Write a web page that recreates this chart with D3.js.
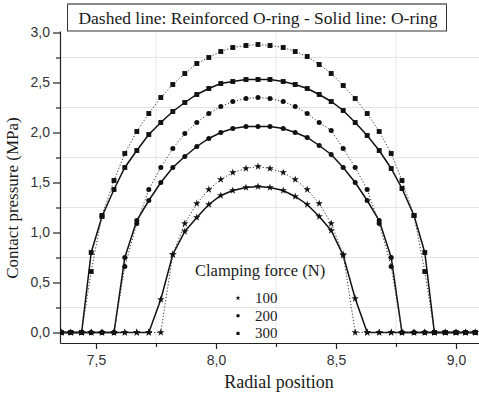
<!DOCTYPE html>
<html>
<head>
<meta charset="utf-8">
<script src="https://cdn.jsdelivr.net/npm/d3@7"></script>
<style>
    body { margin: 0; background: #fff; }
    svg { display: block; }
    .serif { font-family: "Liberation Serif", "Times New Roman", serif; }
    .sans { font-family: "Liberation Sans", Arial, sans-serif; }
</style>
</head>
<body>
<div id="chart"></div>
<script>
// radial positions shared by all six series
const radialPos = [7.355, 7.395, 7.44, 7.48, 7.525, 7.575, 7.62, 7.67, 7.72, 7.77,
    7.82, 7.87, 7.92, 7.97, 8.02, 8.07, 8.125, 8.175, 8.225, 8.28, 8.33, 8.38, 8.43,
    8.48, 8.53, 8.58, 8.63, 8.68, 8.73, 8.775, 8.825, 8.87, 8.91, 8.955, 9.0, 9.04, 9.08];

// contact pressure (MPa), solid line = O-ring, dotted = reinforced O-ring
const oring100 = [0, 0, 0, 0, 0, 0, 0, 0, 0, 0.33, 0.78, 1.01, 1.15, 1.28, 1.37, 1.42, 1.45,
    1.46, 1.45, 1.42, 1.36, 1.28, 1.16, 1.02, 0.77, 0.34, 0, 0, 0, 0, 0, 0, 0, 0, 0, 0, 0];
const reinforced100 = [0, 0, 0, 0, 0, 0, 0, 0, 0, 0, 0.78, 1.09, 1.29, 1.43, 1.53, 1.60, 1.64,
    1.66, 1.64, 1.60, 1.53, 1.43, 1.29, 1.09, 0.78, 0, 0, 0, 0, 0, 0, 0, 0, 0, 0, 0, 0];
const oring200 = [0, 0, 0, 0, 0, 0, 0.75, 1.12, 1.32, 1.50, 1.65, 1.76, 1.86, 1.94, 2.00, 2.04, 2.06,
    2.06, 2.06, 2.04, 2.00, 1.95, 1.87, 1.78, 1.65, 1.50, 1.32, 1.12, 0.75, 0, 0, 0, 0, 0, 0, 0, 0];
const reinforced200 = [0, 0, 0, 0, 0, 0, 0.66, 1.09, 1.43, 1.65, 1.84, 1.99, 2.10, 2.19, 2.26, 2.31, 2.34,
    2.35, 2.34, 2.31, 2.26, 2.19, 2.10, 2.02, 1.84, 1.65, 1.43, 1.09, 0.66, 0, 0, 0, 0, 0, 0, 0, 0];
const oring300 = [0, 0, 0, 0.80, 1.16, 1.43, 1.65, 1.82, 1.98, 2.10, 2.21, 2.30, 2.38, 2.44, 2.49, 2.51, 2.53,
    2.53, 2.53, 2.51, 2.48, 2.44, 2.38, 2.31, 2.22, 2.10, 1.97, 1.82, 1.64, 1.44, 1.17, 0.80, 0, 0, 0, 0, 0];
const reinforced300 = [0, 0, 0, 0.61, 1.17, 1.52, 1.79, 2.01, 2.19, 2.35, 2.48, 2.59, 2.69, 2.75, 2.81, 2.85, 2.87,
    2.88, 2.87, 2.85, 2.81, 2.76, 2.68, 2.59, 2.47, 2.34, 2.19, 2.01, 1.79, 1.52, 1.17, 0.61, 0, 0, 0, 0, 0];

const forces = ["100", "200", "300"];
const xTicks = [7.5, 8.0, 8.5, 9.0];
const xMinorTicks = [7.75, 8.25, 8.75];
const yTicks = [0, 0.5, 1.0, 1.5, 2.0, 2.5, 3.0];
const yMinorTicks = [0.25, 0.75, 1.25, 1.75, 2.25, 2.75];

const legendTitle = "Dashed line: Reinforced O-ring - Solid line: O-ring";

const series = [
    { force: "100", values: oring100, dotted: false },
    { force: "100", values: reinforced100, dotted: true },
    { force: "200", values: oring200, dotted: false },
    { force: "200", values: reinforced200, dotted: true },
    { force: "300", values: oring300, dotted: false },
    { force: "300", values: reinforced300, dotted: true }
];

const width = 479, height = 395;
const plotLeft = 60, plotRight = 480, plotTop = 31, plotBottom = 343;

const svg = d3.select("#chart").append("svg")
    .attr("width", width)
    .attr("height", height);

const x = d3.scaleLinear().domain([7.35, 9.1]).range([plotLeft, plotRight]);
const y = d3.scaleLinear().domain([-0.105, 3.015]).range([plotBottom, plotTop]);

const comma = v => d3.format(".1f")(v).replace(".", ",");

const symbols = {
    "100": d3.symbol().type(d3.symbolStar).size(17),
    "200": d3.symbol().type(d3.symbolCircle).size(20),
    "300": d3.symbol().type(d3.symbolSquare).size(24)
};

// faint grid at the minor ticks
svg.append("g").selectAll("line")
    .data(yMinorTicks)
    .join("line")
    .attr("x1", plotLeft).attr("x2", plotRight)
    .attr("y1", d => y(d)).attr("y2", d => y(d))
    .attr("stroke", "#e4e4e4").attr("stroke-width", 1);

svg.append("g").selectAll("line")
    .data(xMinorTicks)
    .join("line")
    .attr("x1", d => x(d)).attr("x2", d => x(d))
    .attr("y1", plotTop).attr("y2", plotBottom)
    .attr("stroke", "#e8e8e8").attr("stroke-width", 1);

// axes
const xAxis = svg.append("g")
    .attr("transform", `translate(0, ${plotBottom})`)
    .call(d3.axisBottom(x).tickValues(xTicks).tickFormat(comma).tickSize(6).tickSizeOuter(0));

svg.append("g")
    .attr("transform", `translate(0, ${plotBottom})`)
    .call(d3.axisBottom(x).tickValues(xMinorTicks).tickFormat("").tickSize(4).tickSizeOuter(0))
    .select(".domain").remove();

const yAxis = svg.append("g")
    .attr("transform", `translate(${plotLeft}, 0)`)
    .call(d3.axisLeft(y).tickValues(yTicks).tickFormat(comma).tickSize(7).tickSizeOuter(0));

svg.append("g")
    .attr("transform", `translate(${plotLeft}, 0)`)
    .call(d3.axisLeft(y).tickValues(yMinorTicks).tickFormat("").tickSize(4).tickSizeOuter(0))
    .select(".domain").remove();

svg.selectAll(".domain").attr("stroke", "#222").attr("stroke-width", 1.2);
svg.selectAll(".tick line").attr("stroke", "#222").attr("stroke-width", 1.2);

xAxis.attr("font-family", null);
yAxis.attr("font-family", null);

xAxis.selectAll("text")
    .attr("class", "sans")
    .attr("font-size", 14)
    .attr("fill", "#333")
    .attr("dy", "0.95em");

yAxis.selectAll("text")
    .attr("class", "sans")
    .attr("font-size", 14)
    .attr("fill", "#333")
    .attr("x", -10);

// axis titles
svg.append("text")
    .attr("class", "serif")
    .attr("x", 279).attr("y", 388)
    .attr("text-anchor", "middle")
    .attr("font-size", 18)
    .attr("fill", "#1a1a1a")
    .text("Radial position");

svg.append("text")
    .attr("class", "serif")
    .attr("transform", "translate(18, 198) rotate(-90)")
    .attr("text-anchor", "middle")
    .attr("font-size", 17)
    .attr("fill", "#1a1a1a")
    .text("Contact pressure (MPa)");

// curves
svg.append("clipPath").attr("id", "plot-clip")
    .append("rect")
    .attr("x", plotLeft).attr("y", 0)
    .attr("width", plotRight - plotLeft).attr("height", plotBottom);

const plot = svg.append("g").attr("clip-path", "url(#plot-clip)");

const lineGen = d3.line()
    .x((d, i) => x(radialPos[i]))
    .y(d => y(d));

plot.selectAll("path.curve")
    .data(series)
    .join("path")
    .attr("class", "curve")
    .attr("d", d => lineGen(d.values))
    .attr("fill", "none")
    .attr("stroke", d => d.dotted ? "#333" : "#111")
    .attr("stroke-width", d => d.dotted ? 1 : 1.5)
    .attr("stroke-dasharray", d => d.dotted ? "1.2,2" : null);

series.forEach(s => {
    plot.append("g").selectAll("path")
        .data(s.values)
        .join("path")
        .attr("transform", (d, i) => `translate(${x(radialPos[i])}, ${y(d)})`)
        .attr("d", symbols[s.force])
        .attr("fill", "#111");
});

// top legend box
const box = svg.append("g");
box.append("rect")
    .attr("x", 67.5).attr("y", 4)
    .attr("width", 379).attr("height", 27)
    .attr("fill", "#fff")
    .attr("stroke", "#333")
    .attr("stroke-width", 1);
box.append("line")
    .attr("x1", 67.5).attr("x2", 446.5)
    .attr("y1", 4).attr("y2", 4)
    .attr("stroke", "#888").attr("stroke-width", 2);
box.append("text")
    .attr("class", "serif")
    .attr("x", 258).attr("y", 24)
    .attr("text-anchor", "middle")
    .attr("font-size", 17.5)
    .attr("fill", "#1a1a1a")
    .text(legendTitle);

// clamping force legend
const legend = svg.append("g");
legend.append("text")
    .attr("class", "serif")
    .attr("x", 195).attr("y", 276)
    .attr("font-size", 16.5)
    .attr("fill", "#1a1a1a")
    .text("Clamping force (N)");

const legendSymbols = {
    "100": d3.symbol().type(d3.symbolStar).size(8),
    "200": d3.symbol().type(d3.symbolCircle).size(10),
    "300": d3.symbol().type(d3.symbolSquare).size(10)
};

forces.forEach((f, i) => {
    const ly = 298 + i * 17.7;
    legend.append("path")
        .attr("transform", `translate(238, ${ly})`)
        .attr("d", legendSymbols[f])
        .attr("fill", "#111");
    legend.append("text")
        .attr("class", "serif")
        .attr("x", 255).attr("y", ly + 5)
        .attr("font-size", 15)
        .attr("fill", "#1a1a1a")
        .text(f);
});
</script>
</body>
</html>
